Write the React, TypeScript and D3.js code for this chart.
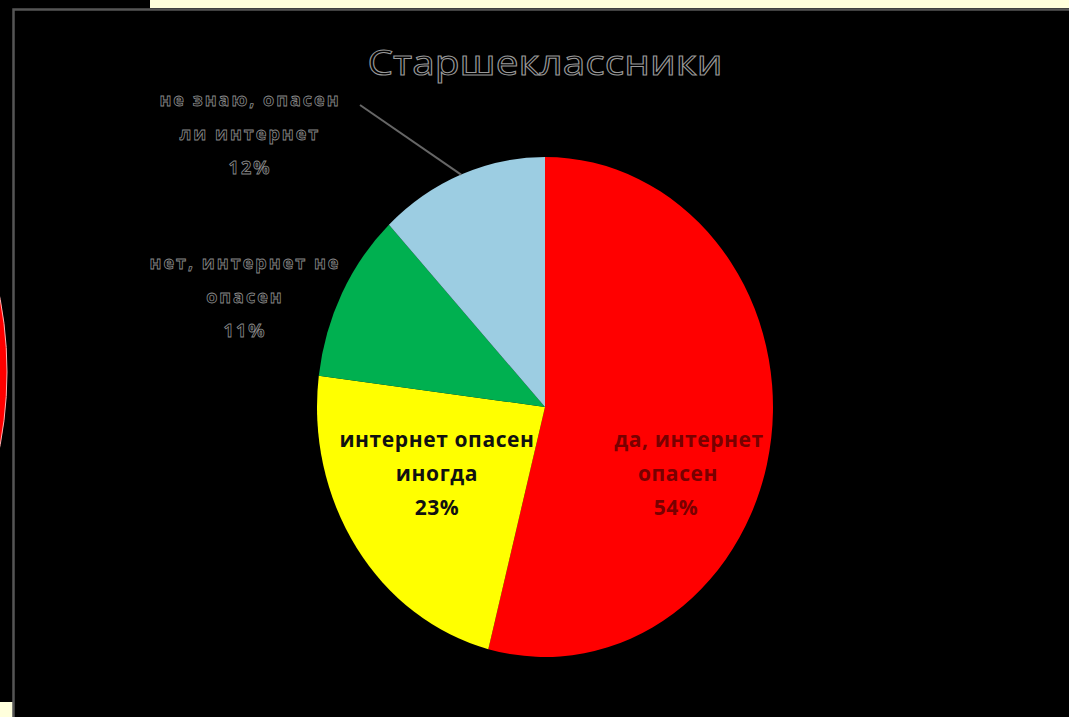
import React from "react";
import * as d3 from "d3";

const categories = [
  "да, интернет опасен",
  "интернет опасен иногда",
  "нет, интернет не опасен",
  "не знаю, опасен ли интернет",
];
const values = [54, 23, 11, 12];
const colors = ["#FF0000", "#FFFF00", "#00B050", "#9CCDE2"];
const labelLines = [
  ["да, интернет", "опасен", "54%"],
  ["интернет опасен", "иногда", "23%"],
  ["нет, интернет не", "опасен", "11%"],
  ["не знаю, опасен", "ли интернет", "12%"],
];
const title = "Старшеклассники";

const W = 1069;
const H = 717;

export default function App() {
  const cx = 545;
  const cy = 407;
  const r = 228;
  const sy = 250 / 228;

  const pie = d3.pie<number>().sort(null).startAngle(0).endAngle(2 * Math.PI);
  const arcs = pie(values);
  const arcGen = d3.arc<d3.PieArcDatum<number>>().innerRadius(0).outerRadius(r);

  const labelPos: [number, number][] = [
    [685, 440],
    [437, 440],
    [245, 263],
    [250, 100],
  ];
  const lineStyle = [
    { size: 21, fill: "#780000", stroke: "none", sw: 0, ls: 0.6 },
    { size: 21, fill: "#111", stroke: "none", sw: 0, ls: 0.6 },
    { size: 18, fill: "#000", stroke: "#8a8a8a", sw: 0.8, ls: 2 },
    { size: 18, fill: "#000", stroke: "#8a8a8a", sw: 0.8, ls: 2 },
  ];
  const blue = arcs[3];
  const bm = (blue.startAngle + blue.endAngle) / 2;

  return (
    <div style={{ position: "fixed", left: 0, top: 0, width: W, height: H }}>
      <svg width={W} height={H} style={{ display: "block", background: "#000" }}>
        <rect x={0} y={0} width={W} height={H} fill="#000" />
        <rect x={150} y={0} width={W - 150} height={8} fill="#FFFFDC" />
        <rect x={0} y={702} width={13} height={15} fill="#FFFFDC" />
        <defs>
          <clipPath id="leftclip">
            <rect x={0} y={0} width={13} height={H} />
          </clipPath>
        </defs>
        <ellipse
          cx={-150}
          cy={372}
          rx={157}
          ry={250}
          fill="#FF0000"
          stroke="#ffb0b0"
          strokeWidth={1}
          clipPath="url(#leftclip)"
        />
        <path d={`M13.5,${H} V9.5 H${W}`} fill="none" stroke="#555" strokeWidth={2.5} />
        <text
          x={cx}
          y={75}
          textAnchor="middle"
          fontFamily="'Open Sans', 'Noto Sans', sans-serif"
          fontSize={34}
          fill="#000"
          stroke="#999"
          strokeWidth={1}
          textLength={355}
          lengthAdjust="spacingAndGlyphs"
        >
          {title}
        </text>
        <g transform={`translate(${cx},${cy}) scale(1,${sy})`}>
          {arcs.map((a, i) => (
            <path key={categories[i]} d={arcGen(a) || ""} fill={colors[i]} />
          ))}
        </g>
        <line
          x1={360}
          y1={105}
          x2={cx + Math.sin(bm) * r}
          y2={cy - Math.cos(bm) * r * sy}
          stroke="#666"
          strokeWidth={2}
        />
        {labelLines.map((lines, i) => {
          const [px, py] = labelPos[i];
          const st = lineStyle[i];
          return (
            <g key={categories[i]} transform={`translate(${px},${py})`}>
              {lines.map((t, j) => (
                <text
                  key={j}
                  x={i === 0 ? (j === 0 ? 4 : j === 1 ? -7 : -9) : 0}
                  y={j * 34}
                  dy="0.35em"
                  textAnchor="middle"
                  fontFamily="'Open Sans', 'Noto Sans', sans-serif"
                  fontWeight="bold"
                  fontSize={st.size}
                  letterSpacing={st.ls}
                  fill={st.fill}
                  stroke={st.stroke}
                  strokeWidth={st.sw}
                >
                  {t}
                </text>
              ))}
            </g>
          );
        })}
      </svg>
    </div>
  );
}
